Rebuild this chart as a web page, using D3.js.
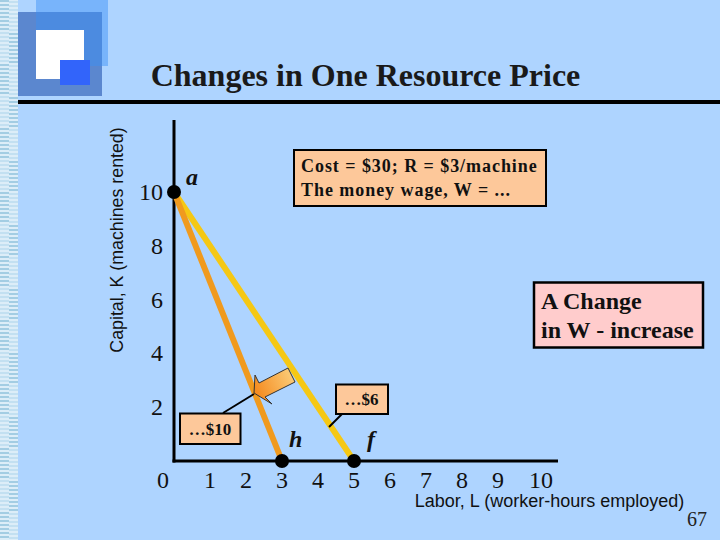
<!DOCTYPE html>
<html><head><meta charset="utf-8">
<script src="https://cdn.jsdelivr.net/npm/d3@7"></script>
<style>html,body{margin:0;padding:0;background:#aed4ff}svg{display:block}</style>
</head><body><svg id="c" width="720" height="540"></svg>
<script>
const title = "Changes in One Resource Price";
const xTicks = [1,2,3,4,5,6,7,8,9,10];
const yTicks = [2,4,6,8,10];
const lineW10 = [[0,10],[3,0]];
const lineW6 = [[0,10],[5,0]];
const points = [{x:0,y:10,n:"a",dx:12,dy:-7},{x:3,y:0,n:"h",dx:7,dy:-14},{x:5,y:0,n:"f",dx:13,dy:-14}];
const xLabel = "Labor, L (worker-hours employed)";
const yLabel = "Capital, K (machines rented)";
const serif = "'Liberation Serif','Times New Roman',serif";
const sans = "'Liberation Sans',Arial,sans-serif";
const svg = d3.select("#c");
const x = d3.scaleLinear().domain([0,10]).range([174,534]);
const y = d3.scaleLinear().domain([0,10]).range([461,192]);

svg.append("rect").attr("width",720).attr("height",540).attr("fill","#aed4ff");

// left strip
const defs = svg.append("defs");
const pat = defs.append("pattern").attr("id","strip").attr("patternUnits","userSpaceOnUse").attr("width",18).attr("height",64);
pat.append("rect").attr("width",18).attr("height",64).attr("fill","#dcedf8");
d3.range(0,64,4).forEach(v=>{
  const dark = v<32;
  pat.append("rect").attr("x",0).attr("y",v).attr("width",9).attr("height",2).attr("fill",dark?"#a3cde3":"#c3e0f1");
  pat.append("rect").attr("x",9).attr("y",v+1).attr("width",9).attr("height",2).attr("fill",dark?"#c3e0f1":"#a3cde3");
});
svg.append("rect").attr("width",18).attr("height",540).attr("fill","url(#strip)");

// logo
svg.append("rect").attr("x",36).attr("y",0).attr("width",72).attr("height",66).attr("fill","#78b4fb");
svg.append("rect").attr("x",18).attr("y",12).attr("width",84).attr("height",84).attr("fill","#5b87cf");
svg.append("rect").attr("x",36).attr("y",12).attr("width",66).attr("height",54).attr("fill","#4c8be0");
svg.append("rect").attr("x",36).attr("y",30).attr("width",48).attr("height",49).attr("fill","#fff");
svg.append("rect").attr("x",60).attr("y",60).attr("width",30).attr("height",25).attr("fill","#3264fa");

svg.append("text").attr("x",365.5).attr("y",86).attr("text-anchor","middle")
  .attr("font-family",serif).attr("font-weight","bold").attr("font-size",32).attr("fill","#1a1a1a").text(title);
svg.append("rect").attr("x",18).attr("y",100).attr("width",702).attr("height",4).attr("fill","#000");

// axes
const axG = svg.append("g");
axG.append("line").attr("x1",x(0)).attr("x2",x(0)).attr("y1",120).attr("y2",y(0)+1.5).attr("stroke","#000").attr("stroke-width",3);
axG.append("line").attr("x1",x(0)-1.5).attr("x2",558).attr("y1",y(0)).attr("y2",y(0)).attr("stroke","#000").attr("stroke-width",3);

const tick = {"font-family":serif,"font-size":24,"fill":"#111"};
function st(s){Object.entries(tick).forEach(([k,v])=>s.attr(k,v));return s;}
st(svg.append("g").selectAll("text").data(xTicks).join("text")
  .attr("x",d=>x(d)+(d===10?7:0)).attr("y",488).attr("text-anchor","middle").text(d=>d));
st(svg.append("g").selectAll("text").data(yTicks).join("text")
  .attr("x",163).attr("y",d=>y(d)+8).attr("text-anchor","end").text(d=>d));
st(svg.append("text").attr("x",163).attr("y",488).attr("text-anchor","middle").text("0"));

svg.append("text").attr("transform","translate(123,240) rotate(-90)").attr("text-anchor","middle")
  .attr("font-family",sans).attr("font-size",17.8).attr("fill","#111").text(yLabel);
svg.append("text").attr("x",549.5).attr("y",507).attr("text-anchor","middle")
  .attr("font-family",sans).attr("font-size",18).attr("fill","#111").text(xLabel);
svg.append("text").attr("x",707).attr("y",526).attr("text-anchor","end")
  .attr("font-family",serif).attr("font-size",20).attr("fill","#222").text("67");

// budget lines
const line = d3.line().x(d=>x(d[0])).y(d=>y(d[1]));
svg.append("path").attr("d",line(lineW6)).attr("fill","none").attr("stroke","#f5c814").attr("stroke-width",6);
svg.append("path").attr("d",line(lineW10)).attr("fill","none").attr("stroke","#f09a1e").attr("stroke-width",6);

// leaders
svg.append("line").attr("x1",223).attr("y1",413).attr("x2",254).attr("y2",394).attr("stroke","#000").attr("stroke-width",2);
svg.append("line").attr("x1",342).attr("y1",414).attr("x2",329).attr("y2",427).attr("stroke","#000").attr("stroke-width",2);

// arrow
const grad = defs.append("linearGradient").attr("id","ag").attr("x1","0").attr("x2","1").attr("y1","0.6").attr("y2","0.2");
grad.append("stop").attr("offset",0).attr("stop-color","#f58a1e");
grad.append("stop").attr("offset",1).attr("stop-color","#fbcf7c");
svg.append("path").attr("d",d3.line()([[254,393],[255,375],[259,383],[288,368],[295,382],[265,397],[272,404]])+"Z")
  .attr("fill","url(#ag)").attr("stroke","#333").attr("stroke-width",1).attr("stroke-linejoin","round");

// points
svg.append("g").selectAll("circle").data(points).join("circle")
  .attr("cx",d=>x(d.x)).attr("cy",d=>y(d.y)).attr("r",7).attr("fill","#000");
svg.append("g").selectAll("text").data(points).join("text")
  .attr("x",d=>x(d.x)+d.dx).attr("y",d=>y(d.y)+d.dy)
  .attr("font-family",serif).attr("font-weight","bold").attr("font-style","italic").attr("font-size",24).attr("fill","#111").text(d=>d.n);

// boxes
function box(bx,by,w,h,fill,sw,lines,fs,lx,ly,lh,anchor,ls){
  svg.append("rect").attr("x",bx).attr("y",by).attr("width",w).attr("height",h).attr("fill",fill).attr("stroke","#000").attr("stroke-width",sw);
  lines.forEach((t,i)=>svg.append("text").attr("x",lx).attr("y",ly+i*lh).attr("text-anchor",anchor||"start")
    .attr("letter-spacing",ls||0)
    .attr("font-family",serif).attr("font-weight","bold").attr("font-size",fs).attr("fill","#111").text(t));
}
box(294,150,252,56,"#fdc89a",2,["Cost = $30; R = $3/machine","The money wage, W = ..."],18,301,172,24,"start",0.95);
box(534,282.5,169,65,"#ffcccc",2.5,["A Change","in W - increase"],24,541,309,29);
box(180,413.5,60.5,30.5,"#fdc89a",2,["…$10"],17,210,435,0,"middle");
box(336,384.5,52,29.5,"#fdc89a",2,["…$6"],17,361.5,405,0,"middle");
</script></body></html>
